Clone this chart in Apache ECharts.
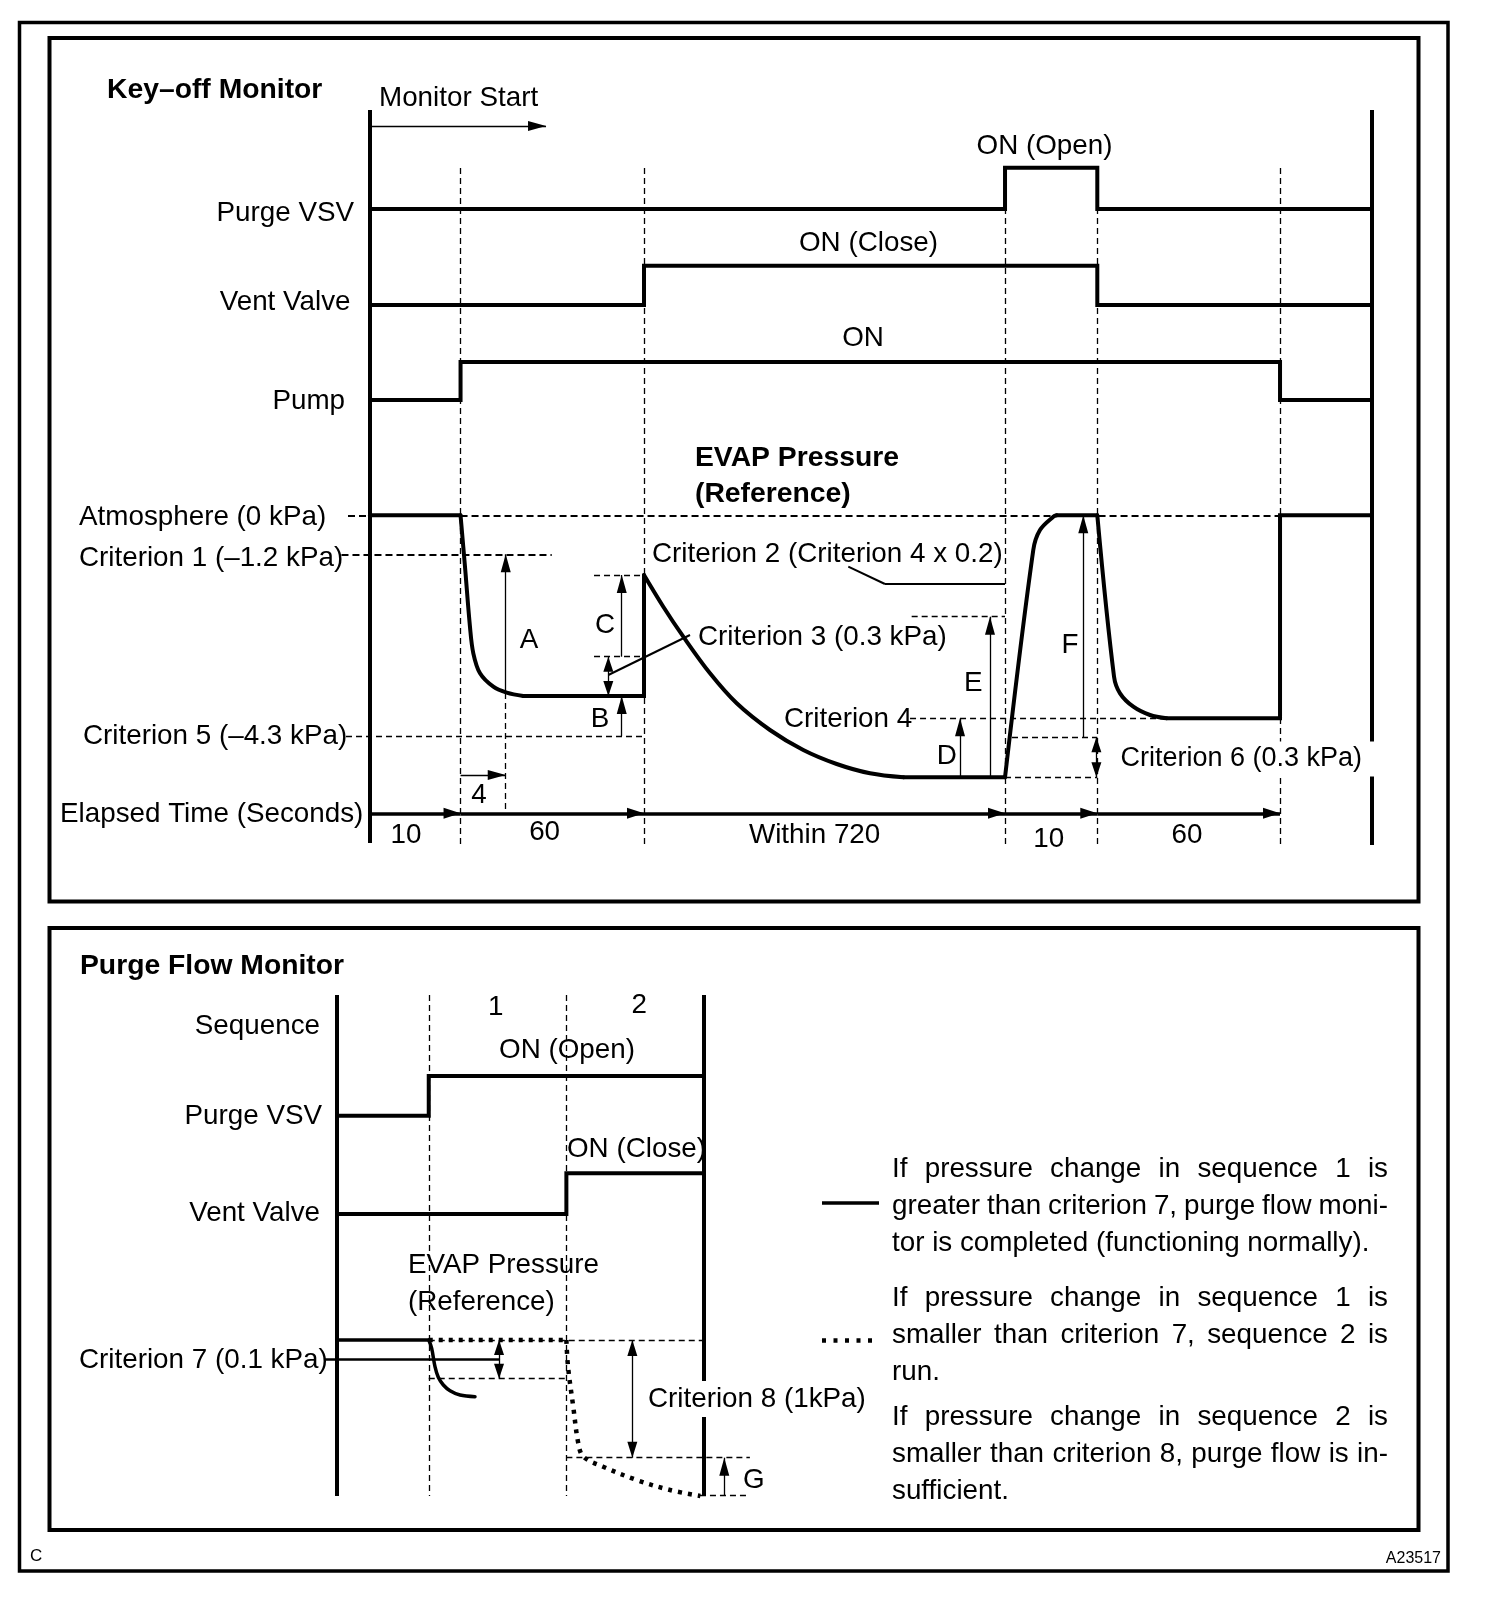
<!DOCTYPE html>
<html>
<head>
<meta charset="utf-8">
<script src="https://cdn.jsdelivr.net/npm/echarts@6/dist/echarts.min.js"></script>
<style>
html, body { margin: 0; padding: 0; background: #fff; }
#chart { width: 1504px; height: 1612px; }
</style>
</head>
<body>
<div id="chart"></div>
<script>
// ---------- Key-off Monitor (upper diagram) ----------
// schematic time: phase edges for 10 s / 60 s / within 720 s / 10 s / 60 s
var KO_EDGES = [0, 10, 30.26, 70.13, 80.32, 100.5, 110.6];
var KO_ELAPSED = ['10', '60', 'Within 720', '10', '60'];

var KO_PURGE_T = [0, 70.13, 70.13, 80.32, 80.32, 110.6];
var KO_PURGE_V = [63.6, 63.6, 67.73, 67.73, 63.6, 63.6];
var KO_VENT_T = [0, 30.26, 30.26, 80.32, 80.32, 110.6];
var KO_VENT_V = [54.0, 54.0, 57.93, 57.93, 54.0, 54.0];
var KO_PUMP_T = [0, 10, 10, 100.5, 100.5, 110.6];
var KO_PUMP_V = [44.5, 44.5, 48.3, 48.3, 44.5, 44.5];

var KO_EVAP_T = [0, 10, 10.49, 11.04, 11.41, 12.15, 13.62, 15.10, 16.93, 30.26, 30.26, 32.39, 34.6, 37.55,
  40.5, 44.17, 47.85, 51.54, 55.22, 58.9, 70.13, 73.25, 73.99, 75.46, 75.84, 80.32, 82.17, 82.83, 84.3,
  86.14, 87.98, 100.5, 100.5, 110.6];
var KO_EVAP_V = [32.97, 32.97, 27.83, 21.83, 19.17, 17.17, 15.83, 15.23, 14.9, 14.9, 27.0, 23.83, 20.83, 17.17,
  14.17, 11.5, 9.5, 8.1, 7.17, 6.77, 6.77, 29.5, 31.5, 32.83, 32.97, 32.97, 16.83, 15.17, 13.83,
  13.0, 12.67, 12.67, 32.97, 32.97];

// reference levels on the pressure trace
var KO_ATM = 32.97, KO_CRIT1 = 29.07, KO_CRIT5 = 10.9, KO_CRIT4 = 12.67;
var KO_FLOOR1 = 14.9, KO_SPIKE = 27.0, KO_C_LOW = 18.83;
var KO_FLOOR2 = 6.77, KO_E_TOP = 22.83, KO_F_LOW = 10.77, KO_CRIT2 = 26.1;

// ---------- Purge Flow Monitor (lower diagram) ----------
var PF_EDGES = [0, 10, 25, 40];
var PF_PURGE_T = [0, 10, 10, 40];
var PF_PURGE_V = [38.03, 38.03, 42.0, 42.0];
var PF_VENT_T = [0, 25, 25, 40];
var PF_VENT_V = [28.2, 28.2, 32.27, 32.27];
var PF_OK_T = [0, 10, 10.32, 10.68, 11.04, 11.59, 12.32, 13.41, 15.04];
var PF_OK_V = [15.6, 15.6, 14.77, 12.93, 11.87, 11.1, 10.53, 10.1, 9.93];
var PF_LOW_T = [10, 25, 25.18, 25.75, 26.3, 26.85, 29.0, 32.66, 36.3, 39.6];
var PF_LOW_V = [15.6, 15.6, 12.93, 8.93, 5.27, 3.93, 2.93, 1.6, 0.6, 0];
var PF_ATM = 15.6, PF_CRIT7 = 13.67, PF_SEQ1_LOW = 11.73, PF_CRIT8_LOW = 3.83;

var NOTES = [
  [['If pressure change in sequence 1 is', 1], ['greater than criterion 7, purge flow moni-', 1], ['tor is completed (functioning normally).', 0]],
  [['If pressure change in sequence 1 is', 1], ['smaller than criterion 7, sequence 2 is', 1], ['run.', 0]],
  [['If pressure change in sequence 2 is', 1], ['smaller than criterion 8, purge flow is in-', 1], ['sufficient.', 0]]
];

// ---------- layout ----------
var FONT = '"Liberation Sans", Arial, Helvetica, sans-serif';
var FS = 27.8, FS_BOLD = 28.3;
var KO_MIN = -3.5, KO_MAX = 110.6, KO_PX = 9.055, KO_VMAX = 73.5;
var PF_MIN = -1.5, PF_MAX = 46.5, PF_PX = 9.175, PF_VMAX = 50.1;
// [from index, to index, smooth?] pieces of the traces
var KO_EVAP_PIECES = [[0, 1, 0], [1, 8, 1], [8, 10, 0], [10, 19, 1], [19, 20, 0], [20, 24, 1], [24, 25, 0], [25, 30, 1], [30, 33, 0]];
var PF_OK_PIECES = [[0, 1, 0], [1, 8, 1]];
var PF_LOW_PIECES = [[0, 1, 0], [1, 9, 1]];

function zip(a, b) { return a.map(function (v, i) { return [v, b[i]]; }); }

var DASH = { color: '#000', width: 1.3, type: [6, 4] };
var DASH_B = { color: '#000', width: 1.8, type: [7, 4] };
var THIN = { color: '#000', width: 1.3, type: 'solid' };
var LEAD = { color: '#000', width: 2, type: 'solid' };
var AXIS = { color: '#000', width: 4, type: 'solid' };
var TIME = { color: '#000', width: 3.5, type: 'solid' };
// triangle whose tip sits on the end point of the line
var HEAD = 'path://M0,20L5,40L-5,40Z M0,0L0.01,0';

function seg(a, b, style, symA, symB, size) {
  var p = { coord: a, symbol: symA || 'none', lineStyle: style };
  var q = { coord: b, symbol: symB || 'none', lineStyle: style };
  if (size) { p.symbolSize = size; q.symbolSize = size; }
  return [p, q];
}
function arrow(a, b, style, size) { return seg(a, b, style || THIN, 'none', HEAD, size); }
function both(a, b, size) { return seg(a, b, THIN, HEAD, HEAD, size); }

function overlay(g, lines) {
  return {
    type: 'line', xAxisIndex: g, yAxisIndex: g, data: [], silent: true, animation: false,
    markLine: {
      silent: true, animation: false, symbol: ['none', 'none'], symbolSize: [10, 36],
      label: { show: false }, emphasis: { disabled: true }, data: lines
    }
  };
}
function trace(g, t, v, style) {
  return {
    type: 'line', xAxisIndex: g, yAxisIndex: g, data: zip(t, v), symbol: 'none',
    silent: true, animation: false, clip: false,
    lineStyle: Object.assign({ color: '#000', width: 4, join: 'miter', cap: 'butt' }, style || {})
  };
}
function pieces(g, t, v, list, style) {
  return list.map(function (p) {
    var s = trace(g, t.slice(p[0], p[1] + 1), v.slice(p[0], p[1] + 1), style);
    if (p[2]) s.smooth = 0.35;
    return s;
  });
}

// ---------- upper overlays ----------
var koLines = [];
KO_EDGES.slice(1, 6).forEach(function (t) { koLines.push(seg([t, 67.7], [t, 0], DASH)); });
koLines.push(seg([-2.43, KO_ATM], [0, KO_ATM], DASH_B));
koLines.push(seg([10, KO_ATM], [KO_MAX, KO_ATM], DASH_B));
koLines.push(seg([-3.15, KO_CRIT1], [20.07, KO_CRIT1], DASH_B));
koLines.push(seg([-2.65, KO_CRIT5], [KO_EDGES[2], KO_CRIT5], DASH));
koLines.push(seg([24.74, KO_SPIKE], [KO_EDGES[2], KO_SPIKE], DASH));
koLines.push(seg([24.74, KO_C_LOW], [KO_EDGES[2], KO_C_LOW], DASH));
koLines.push(seg([14.99, 15.2], [14.99, 3.5], DASH));
koLines.push(seg([59.82, KO_E_TOP], [KO_EDGES[3], KO_E_TOP], DASH));
koLines.push(seg([59.64, KO_CRIT4], [87.98, KO_CRIT4], DASH));
koLines.push(seg([70.9, KO_F_LOW], [KO_EDGES[4], KO_F_LOW], DASH));
koLines.push(seg([KO_EDGES[3], KO_FLOOR2], [KO_EDGES[4], KO_FLOOR2], DASH));
// arrows
koLines.push(arrow([0, 71.9], [19.44, 71.9]));
koLines.push(arrow([14.99, 15.23], [14.99, KO_CRIT1]));
koLines.push(arrow([27.8, KO_C_LOW], [27.8, KO_SPIKE]));
koLines.push(both([26.32, KO_FLOOR1], [26.32, KO_C_LOW], [10, 30]));
koLines.push(arrow([27.8, KO_CRIT5], [27.8, KO_FLOOR1]));
koLines.push(arrow([10, 7.0], [14.99, 7.0]));
koLines.push(arrow([65.16, KO_FLOOR2], [65.16, KO_CRIT4]));
koLines.push(arrow([68.47, KO_FLOOR2], [68.47, KO_E_TOP]));
koLines.push(arrow([78.77, KO_F_LOW], [78.77, KO_ATM]));
koLines.push(both([80.22, KO_FLOOR2], [80.22, KO_F_LOW], [10, 30]));
// elapsed time axis
for (var i = 0; i < 5; i++) {
  koLines.push(arrow([KO_EDGES[i], 3.17], [KO_EDGES[i + 1], 3.17], TIME, [11, 34]));
}
// leaders
koLines.push(seg([26.32, 17.0], [35.34, 21.0], LEAD));
koLines.push(seg([52.82, 27.83], [56.87, KO_CRIT2], LEAD));
koLines.push(seg([56.87, KO_CRIT2], [KO_EDGES[3], KO_CRIT2], LEAD));
// frame lines
koLines.push(seg([0, KO_VMAX], [0, 0.2], AXIS));
koLines.push(seg([KO_MAX, KO_VMAX], [KO_MAX, 0], AXIS));

// ---------- lower overlays ----------
var pfLines = [];
[PF_EDGES[1], PF_EDGES[2]].forEach(function (t) { pfLines.push(seg([t, PF_VMAX], [t, 0], DASH)); });
pfLines.push(seg([10, PF_ATM], [40, PF_ATM], DASH));
pfLines.push(seg([10, PF_SEQ1_LOW], [25, PF_SEQ1_LOW], DASH));
pfLines.push(seg([25, PF_CRIT8_LOW], [45, PF_CRIT8_LOW], DASH));
pfLines.push(seg([39.56, 0.05], [45, 0.05], DASH));
pfLines.push(both([17.66, PF_SEQ1_LOW], [17.66, PF_ATM], [10, 30]));
pfLines.push(both([32.19, PF_CRIT8_LOW], [32.19, PF_ATM], [10, 32]));
pfLines.push(arrow([42.21, 0], [42.21, PF_CRIT8_LOW]));
pfLines.push(seg([-1.31, PF_CRIT7], [17.77, PF_CRIT7], { color: '#000', width: 2.5, type: 'solid' }));
pfLines.push(seg([0, PF_VMAX], [0, 0], AXIS));
pfLines.push(seg([40, PF_VMAX], [40, 0], AXIS));

// ---------- texts ----------
function txt(x, y, s, o) {
  o = o || {};
  var st = {
    text: s, font: (o.bold ? 'bold ' + FS_BOLD : (o.size || FS)) + 'px ' + FONT, fill: '#000',
    align: o.align || 'left', verticalAlign: 'middle',
    textAlign: o.align || 'left', textVerticalAlign: 'middle'
  };
  if (o.bg) { st.backgroundColor = '#fff'; st.padding = o.pad; }
  return { type: 'text', x: x, y: y, z: 100, silent: true, style: st };
}
function box(x, y, w, h, lw) {
  return { type: 'rect', z: 90, silent: true, shape: { x: x, y: y, width: w, height: h },
    style: { fill: null, stroke: '#000', lineWidth: lw } };
}

var g = [];
g.push(box(19.5, 22.6, 1428.5, 1548.5, 3.5));
g.push(box(49.5, 38, 1369, 863.5, 4));
g.push(box(49.5, 928, 1369, 602, 4));

g.push(txt(107, 90, 'Key–off Monitor', { bold: 1 }));
g.push(txt(379, 98, 'Monitor Start'));
g.push(txt(354, 213, 'Purge VSV', { align: 'right' }));
g.push(txt(350.5, 302, 'Vent Valve', { align: 'right' }));
g.push(txt(345, 401, 'Pump', { align: 'right' }));
g.push(txt(1044.5, 146, 'ON (Open)', { align: 'center' }));
g.push(txt(868.5, 243, 'ON (Close)', { align: 'center' }));
g.push(txt(863, 338, 'ON', { align: 'center' }));
g.push(txt(695, 458, 'EVAP Pressure', { bold: 1 }));
g.push(txt(695, 494, '(Reference)', { bold: 1 }));
g.push(txt(79, 517, 'Atmosphere (0 kPa)'));
g.push(txt(79, 558, 'Criterion 1 (–1.2 kPa)'));
g.push(txt(83, 736, 'Criterion 5 (–4.3 kPa)'));
g.push(txt(60, 814, 'Elapsed Time (Seconds)'));
g.push(txt(529, 640, 'A', { align: 'center' }));
g.push(txt(605, 625, 'C', { align: 'center' }));
g.push(txt(600, 719, 'B', { align: 'center' }));
g.push(txt(479, 795, '4', { align: 'center' }));
g.push(txt(652, 554, 'Criterion 2 (Criterion 4 x 0.2)'));
g.push(txt(698, 637, 'Criterion 3 (0.3 kPa)'));
g.push(txt(784, 719, 'Criterion 4'));
g.push(txt(946.7, 756, 'D', { align: 'center' }));
g.push(txt(973.3, 683, 'E', { align: 'center' }));
g.push(txt(1070, 645, 'F', { align: 'center' }));
g.push(txt(1116.5, 759, 'Criterion 6 (0.3 kPa)', { bg: 1, size: 27, pad: [4, 14, 4, 4] }));
var elapsedX = [406, 544.6, 814.6, 1048.7, 1187], elapsedY = [835, 832, 835, 839, 835];
KO_ELAPSED.forEach(function (s, i) { g.push(txt(elapsedX[i], elapsedY[i], s, { align: 'center' })); });

g.push(txt(80, 966, 'Purge Flow Monitor', { bold: 1 }));
g.push(txt(320, 1026, 'Sequence', { align: 'right' }));
g.push(txt(495.7, 1007.5, '1', { align: 'center' }));
g.push(txt(639.3, 1005.5, '2', { align: 'center' }));
g.push(txt(567, 1050, 'ON (Open)', { align: 'center' }));
g.push(txt(322, 1116, 'Purge VSV', { align: 'right' }));
g.push(txt(567, 1149, 'ON (Close)'));
g.push(txt(320, 1213, 'Vent Valve', { align: 'right' }));
g.push(txt(408, 1265, 'EVAP Pressure'));
g.push(txt(408, 1302, '(Reference)'));
g.push(txt(79, 1360, 'Criterion 7 (0.1 kPa)'));
g.push(txt(644, 1399, 'Criterion 8 (1kPa)', { bg: 1, pad: [4, 4, 4, 4] }));
g.push(txt(743, 1480, 'G'));
g.push(txt(30, 1556, 'C', { size: 17 }));
g.push(txt(1441, 1558.5, 'A23517', { align: 'right', size: 16 }));

// legend keys for the note paragraphs
g.push({ type: 'line', z: 90, silent: true, shape: { x1: 822, y1: 1203, x2: 879, y2: 1203 },
  style: { stroke: '#000', lineWidth: 3.5 } });
g.push({ type: 'line', z: 90, silent: true, shape: { x1: 822, y1: 1340.5, x2: 879, y2: 1340.5 },
  style: { stroke: '#000', lineWidth: 4.5, lineDash: [4, 7.5] } });

// justified note paragraphs
var ctx = document.createElement('canvas').getContext('2d');
ctx.font = FS + 'px ' + FONT;
var noteY = [[1169, 1206, 1243], [1298.5, 1335.3, 1372.5], [1417.5, 1454.5, 1491.5]];
var NOTE_L = 892, NOTE_R = 1388;
NOTES.forEach(function (para, pi) {
  para.forEach(function (ln, li) {
    var y = noteY[pi][li];
    if (!ln[1]) { g.push(txt(NOTE_L, y, ln[0])); return; }
    var words = ln[0].split(' ');
    var widths = words.map(function (w) { return ctx.measureText(w).width; });
    var total = widths.reduce(function (a, b) { return a + b; }, 0);
    var gap = (NOTE_R - NOTE_L - total) / (words.length - 1);
    var x = NOTE_L;
    words.forEach(function (w, wi) { g.push(txt(x, y, w)); x += widths[wi] + gap; });
  });
});

// ---------- chart ----------
var chart = echarts.init(document.getElementById('chart'));
var series = [
  trace(0, KO_PURGE_T, KO_PURGE_V),
  trace(0, KO_VENT_T, KO_VENT_V),
  trace(0, KO_PUMP_T, KO_PUMP_V)
].concat(
  pieces(0, KO_EVAP_T, KO_EVAP_V, KO_EVAP_PIECES, { cap: 'round' }),
  [overlay(0, koLines),
   trace(1, PF_PURGE_T, PF_PURGE_V),
   trace(1, PF_VENT_T, PF_VENT_V)],
  pieces(1, PF_OK_T, PF_OK_V, PF_OK_PIECES, { width: 3.5, join: 'round', cap: 'round' }),
  pieces(1, PF_LOW_T, PF_LOW_V, PF_LOW_PIECES, { width: 4.5, type: [4, 6] }),
  [overlay(1, pfLines)]
);

chart.setOption({
  backgroundColor: '#fff',
  animation: false,
  grid: [
    { left: 370 + KO_MIN * KO_PX, top: 110, width: (KO_MAX - KO_MIN) * KO_PX, height: KO_VMAX * 10 },
    { left: 337 + PF_MIN * PF_PX, top: 995, width: (PF_MAX - PF_MIN) * PF_PX, height: PF_VMAX * 10 }
  ],
  xAxis: [
    { type: 'value', gridIndex: 0, min: KO_MIN, max: KO_MAX, show: false },
    { type: 'value', gridIndex: 1, min: PF_MIN, max: PF_MAX, show: false }
  ],
  yAxis: [
    { type: 'value', gridIndex: 0, min: 0, max: KO_VMAX, show: false },
    { type: 'value', gridIndex: 1, min: 0, max: PF_VMAX, show: false }
  ],
  series: series,
  graphic: g
});
</script>
</body>
</html>
